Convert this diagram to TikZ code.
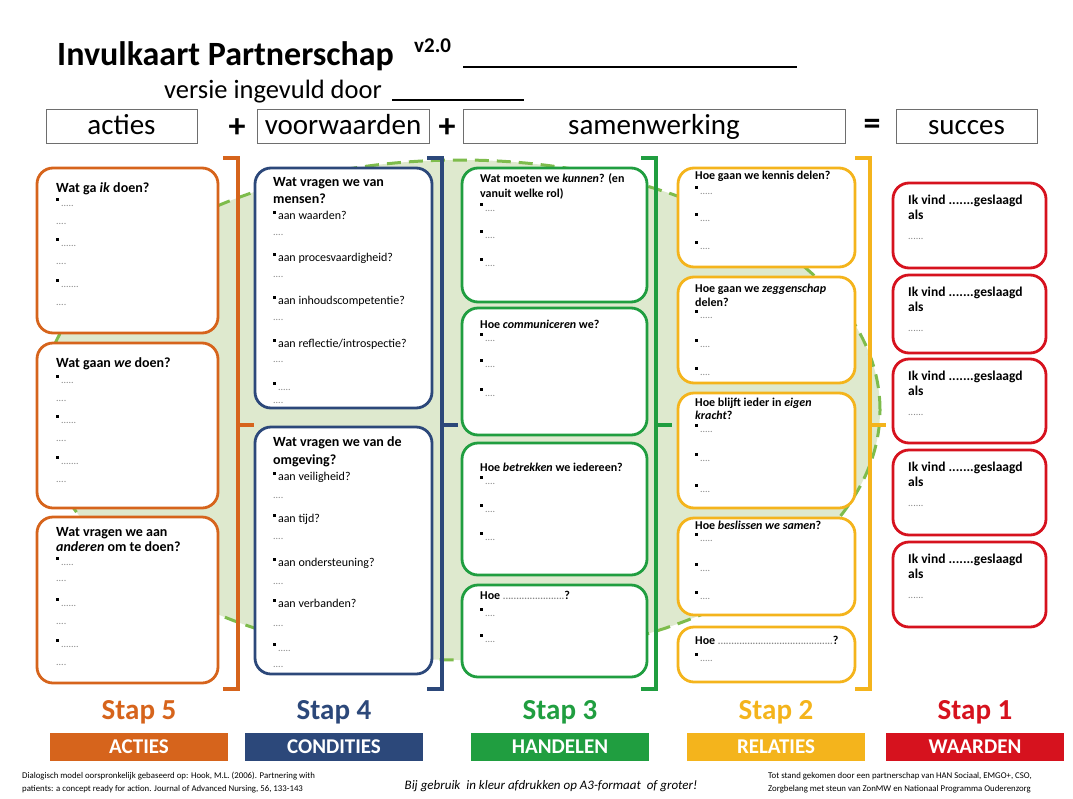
\documentclass[tikz,border=0pt]{standalone}
\usepackage{fontspec}
\setmainfont{Carlito}
\usetikzlibrary{positioning}

\definecolor{orgC}{RGB}{214,100,28}
\definecolor{bluC}{RGB}{44,72,122}
\definecolor{grnC}{RGB}{32,158,64}
\definecolor{ylwC}{RGB}{244,180,28}
\definecolor{redC}{RGB}{214,18,30}
\definecolor{ellfill}{RGB}{222,233,206}
\definecolor{elldash}{RGB}{126,188,76}
\definecolor{dotgray}{RGB}{135,135,135}
\definecolor{hdrgray}{RGB}{110,110,110}

% card contents
\newcommand\rows[1]{\begin{tabular}[t]{@{}l@{}}#1\end{tabular}}
\newcommand\ttl[2][14]{{\fontsize{#1}{#1}\selectfont\bfseries #2}}
\newcommand\blt{\rule[0.42em]{2.8pt}{2.8pt}\,}
\newcommand\dts[1]{{\color{dotgray}\fontsize{10}{10}\selectfont #1}}

\begin{document}
\begin{tikzpicture}[x=1pt, y=-1pt,
    card/.style={draw=#1, line width=2.8pt, rounded corners=16pt, fill=white,
      inner sep=0pt, outer sep=0pt, anchor=north west},
    sz/.style 2 args={minimum width=#1pt, minimum height=#2pt},
    txt/.style={anchor=base west, inner sep=0pt, font=\fontsize{12}{#1}\selectfont},
    hdr/.style={draw=hdrgray, line width=1pt, fill=white, minimum height=34pt,
      inner sep=0pt, text height=22pt, text depth=6pt, font=\fontsize{29}{30}\selectfont},
    sign/.style={inner sep=0pt, font=\fontsize{34}{34}\selectfont\bfseries},
    brack/.style={draw=#1, line width=3.5pt},
    stap/.style={text=#1, inner sep=0pt, font=\fontsize{29}{30}\selectfont\bfseries},
    stapbar/.style={fill=#1, text=white, minimum width=178pt, minimum height=28pt,
      inner sep=0pt, font=\fontsize{21}{22}\selectfont\bfseries},
    foot/.style={anchor=base west, inner sep=0pt, font=\fontsize{8.8}{13}\selectfont}]
  \useasboundingbox (0,0) rectangle (1073,798);

  % title block
  \node[anchor=base west, inner sep=0pt, font=\fontsize{34}{35}\selectfont\bfseries] (title) at (57,65) {Invulkaart Partnerschap};
  \node[anchor=base west, inner sep=0pt, font=\fontsize{21}{22}\selectfont\bfseries] (versie) at (414,52) {v2.0};
  \draw[line width=2.5pt] (463,67) -- (797,67);
  \node[anchor=base west, inner sep=0pt, font=\fontsize{26.5}{27}\selectfont] (door) at (164,98) {versie ingevuld door};
  \draw[line width=1.6pt] (392,100) -- (524,100);

  % formula row
  \node[hdr, minimum width=151pt] (hacties) at (121.5,126) {acties};
  \node[sign] (plus1) at (237,128) {+};
  \node[hdr, minimum width=172pt] (hvoorw) at (343,126) {voorwaarden};
  \node[sign] (plus2) at (447,128) {+};
  \node[hdr, minimum width=382pt] (hsamen) at (654,126) {samenwerking};
  \node[sign] (gelijk) at (872,127) {=};
  \node[hdr, minimum width=141pt] (hsucces) at (966.5,126) {succes};

  % shared area behind the columns
  \fill[ellfill] (460,410) ellipse [x radius=420pt, y radius=250pt];
  \draw[elldash, line width=3pt, dash pattern=on 14pt off 8pt] (460,410) ellipse [x radius=420pt, y radius=250pt];

  % brackets between the columns
  \foreach \x/\c in {238/orgC, 442/bluC, 656/grnC, 870/ylwC}
    \draw[brack=\c] (\x-15,158) -- (\x,158) -- (\x,689) -- (\x-15,689) (\x,425) -- (\x+16,425);

  % acties
  \node[card=orgC, sz={181}{165}] (o1) at (37,168) {};
  \node[txt=18] (o1t) at (56,192) {\rows{\ttl{Wat ga \textit{ik} doen?}\\[-4pt]
    \blt\dts{.....}\\ \dts{....}\\[4pt]
    \blt\dts{......}\\ \dts{....}\\[5pt]
    \blt\dts{.......}\\ \dts{....}}};
  \node[card=orgC, sz={181}{165}] (o2) at (37,343) {};
  \node[txt=18] (o2t) at (56,367) {\rows{\ttl{Wat gaan \textit{we} doen?}\\[-2pt]
    \blt\dts{.....}\\ \dts{....}\\[4pt]
    \blt\dts{......}\\ \dts{....}\\[5pt]
    \blt\dts{.......}\\ \dts{....}}};
  \node[card=orgC, sz={181}{166}] (o3) at (37,517) {};
  \node[txt=18] (o3t) at (56,536) {\rows{\ttl{Wat vragen we aan}\\[-3pt]
    \ttl{\textit{anderen} om te doen?}\\[-4pt]
    \blt\dts{.....}\\[-2pt] \dts{....}\\[7pt]
    \blt\dts{......}\\ \dts{....}\\[5pt]
    \blt\dts{.......}\\ \dts{....}}};

  % voorwaarden
  \node[card=bluC, sz={177}{240}] (b1) at (255,168) {};
  \node[txt=17] (b1t) at (273,186) {\rows{\ttl{Wat vragen we van}\\
    \ttl{mensen?}\\[-1pt]
    \blt aan waarden?\\[-1pt] \dts{....}\\[9pt]
    \blt aan procesvaardigheid?\\[-1pt] \dts{....}\\[10pt]
    \blt aan inhoudscompetentie?\\[-1pt] \dts{....}\\[10pt]
    \blt aan reflectie/introspectie?\\[-2pt] \dts{....}\\[11pt]
    \blt\dts{.....}\\[-4pt] \dts{....}}};
  \node[card=bluC, sz={177}{247}] (b2) at (255,427) {};
  \node[txt=17] (b2t) at (273,446) {\rows{\ttl{Wat vragen we van de}\\[1pt]
    \ttl{omgeving?}\\[-1pt]
    \blt aan veiligheid?\\[1pt] \dts{....}\\[7pt]
    \blt aan tijd?\\ \dts{....}\\[10pt]
    \blt aan ondersteuning?\\[1pt] \dts{....}\\[6pt]
    \blt aan verbanden?\\[2pt] \dts{....}\\[8pt]
    \blt\dts{.....}\\[-1pt] \dts{....}}};

  % samenwerking: handelen
  \node[card=grnC, sz={185}{134}] (g1) at (462,168) {};
  \node[txt=14] (g1t) at (480,182) {\rows{\ttl[12]{Wat moeten we \textit{kunnen}? (en}\\[1pt]
    \ttl[12]{vanuit welke rol)}\\
    \blt\dts{....}\\[13pt] \blt\dts{....}\\[14pt] \blt\dts{....}}};
  \node[card=grnC, sz={185}{127}] (g2) at (462,308) {};
  \node[txt=14] (g2t) at (480,328) {\rows{\ttl[12]{Hoe \textit{communiceren} we?}\\[-1pt]
    \blt\dts{....}\\[12pt] \blt\dts{....}\\[15pt] \blt\dts{....}}};
  \node[card=grnC, sz={185}{132}] (g3) at (462,443) {};
  \node[txt=14] (g3t) at (480,471) {\rows{\ttl[12]{Hoe \textit{betrekken} we iedereen?}\\[-1pt]
    \blt\dts{....}\\[14pt] \blt\dts{....}\\[14pt] \blt\dts{....}}};
  \node[card=grnC, sz={185}{92}] (g4) at (462,585) {};
  \node[txt=14] (g4t) at (480,599) {\rows{\ttl[12]{Hoe \dts{.......................}?}\\[3pt]
    \blt\dts{....}\\[12pt] \blt\dts{....}}};

  % samenwerking: relaties
  \node[card=ylwC, sz={177}{99}] (y1) at (678,168) {};
  \node[txt=14] (y1t) at (695,179) {\rows{\ttl[12]{Hoe gaan we kennis delen?}\\[1pt]
    \blt\dts{.....}\\[13pt] \blt\dts{....}\\[14pt] \blt\dts{....}}};
  \node[card=ylwC, sz={177}{106}] (y2) at (678,277) {};
  \node[txt=14] (y2t) at (695,292) {\rows{\ttl[12]{Hoe gaan we \textit{zeggenschap}}\\
    \ttl[12]{delen?}\\[-2pt]
    \blt\dts{.....}\\[15pt] \blt\dts{....}\\[14pt] \blt\dts{....}}};
  \node[card=ylwC, sz={177}{115}] (y3) at (678,393) {};
  \node[txt=14] (y3t) at (695,406) {\rows{\ttl[12]{Hoe blijft ieder in \textit{eigen}}\\[-1pt]
    \ttl[12]{\textit{kracht}?}\\[-1pt]
    \blt\dts{.....}\\[15pt] \blt\dts{....}\\[17pt] \blt\dts{....}}};
  \node[card=ylwC, sz={177}{97}] (y4) at (678,518) {};
  \node[txt=14] (y4t) at (695,529) {\rows{\ttl[12]{Hoe \textit{beslissen we samen}?}\\[-2pt]
    \blt\dts{.....}\\[16pt] \blt\dts{....}\\[14pt] \blt\dts{....}}};
  \node[card=ylwC, sz={177}{55}] (y5) at (678,627) {};
  \node[txt=14] (y5t) at (695,644) {\rows{\ttl[12]{Hoe \dts{...........................................}?}\\[3pt]
    \blt\dts{.....}}};

  % succes
  \foreach \i/\t/\h in {1/183/85, 2/275/78, 3/359/84, 4/450/85, 5/542/85} {
    \node[card=redC, sz={153}{\h}] (r\i) at (893,\t) {};
    \node[txt=18] (rt\i) at (908,\t+21) {\rows{\ttl[13.5]{Ik vind .......geslaagd}\\[-3pt]
      \ttl[13.5]{als}\\[2pt] \dts{......}}};
  }

  % steps
  \node[stap=orgC] (stap5) at (139,712) {Stap 5};
  \node[stap=bluC] (stap4) at (334,712) {Stap 4};
  \node[stap=grnC] (stap3) at (560,712) {Stap 3};
  \node[stap=ylwC] (stap2) at (776,712) {Stap 2};
  \node[stap=redC] (stap1) at (975,712) {Stap 1};
  \node[stapbar=orgC] (acties) at (139,747) {ACTIES};
  \node[stapbar=bluC] (condities) at (334,747) {CONDITIES};
  \node[stapbar=grnC] (handelen) at (560,747) {HANDELEN};
  \node[stapbar=ylwC] (relaties) at (776,747) {RELATIES};
  \node[stapbar=redC] (waarden) at (975,747) {WAARDEN};

  % footer
  \node[foot] (bron) at (22,778) {\rows{Dialogisch model oorspronkelijk gebaseerd op: Hook, M.L. (2006). Partnering with\\
    patients: a concept ready for action. Journal of Advanced Nursing, 56, 133-143}};
  \node[inner sep=0pt, font=\fontsize{13}{14}\selectfont\itshape] (druk) at (551,786) {Bij gebruik\ \ in kleur afdrukken op A3-formaat\ \ of groter!};
  \node[foot] (steun) at (768,778) {\rows{Tot stand gekomen door een partnerschap van HAN Sociaal, EMGO+, CSO,\\
    Zorgbelang met steun van ZonMW en Nationaal Programma Ouderenzorg}};
\end{tikzpicture}
\end{document}
